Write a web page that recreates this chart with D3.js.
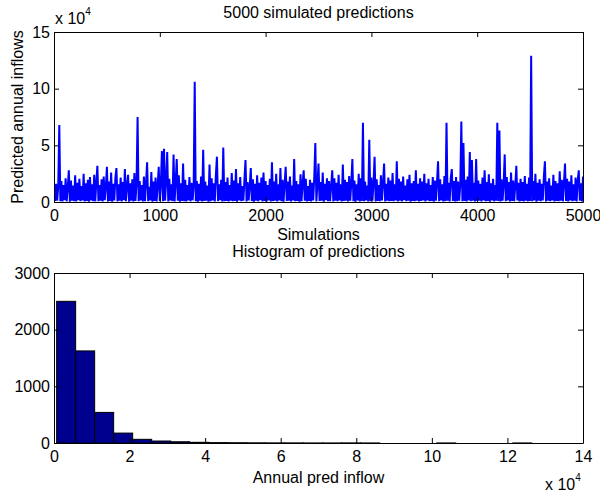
<!DOCTYPE html>
<html>
<head>
<meta charset="utf-8">
<script src="https://cdn.jsdelivr.net/npm/d3@7"></script>
<style>
  body { margin: 0; background: #fff; }
  svg text { font-family: "Liberation Sans", Arial, Helvetica, sans-serif; }
</style>
</head>
<body>
<div id="chart"></div>
<script>
// Predicted annual inflow, one value every 10 simulations
const predictions = [
  900, 16000, 1100, 13500, 68000, 700, 18500, 400, 15000, 1600, 21000, 600, 12500, 28000, 300, 19000, 1200, 14500, 800, 23500,
  500, 17000, 1500, 20500, 700, 14000, 1300, 25000, 400, 16500, 900, 19500, 200, 22000, 1400, 15500, 800, 24000, 600, 17500,
  32000, 700, 15000, 1100, 20000, 400, 22500, 1600, 13500, 31000, 500, 18000, 1000, 26000, 300, 16000, 1300, 21000, 30000, 600,
  15500, 1200, 21500, 500, 17500, 1500, 29000, 800, 14000, 24000, 300, 16500, 1100, 20000, 500, 25500, 900, 16000, 75000, 600,
  18500, 1300, 15000, 400, 22500, 800, 17000, 35000, 700, 13500, 1400, 26500, 300, 18000, 1000, 21500, 500, 15000, 31000, 900,
  16000, 45000, 600, 47000, 1200, 19000, 44000, 400, 20500, 1400, 15500, 800, 42000, 500, 17500, 38000, 1100, 23500, 300, 16500,
  1000, 34000, 700, 19500, 400, 15000, 1300, 22000, 600, 17000, 1500, 13500, 106000, 700, 18500, 300, 16000, 1100, 22500, 500,
  46000, 900, 18000, 1200, 14500, 300, 33000, 600, 21000, 1300, 16500, 400, 24000, 40000, 800, 15500, 1500, 19500, 500, 48000,
  700, 17500, 1000, 21500, 400, 15000, 1200, 25500, 600, 19000, 900, 29000, 300, 16500, 1400, 22000, 700, 14000, 1100, 20000,
  37000, 500, 17500, 1300, 14500, 30000, 800, 20000, 300, 16000, 1200, 23500, 600, 17000, 1600, 21500, 400, 26000, 1000, 18500,
  500, 15000, 1300, 20500, 400, 35000, 800, 18000, 1100, 25000, 500, 15500, 1400, 30000, 700, 19500, 300, 16500, 31000, 900,
  18000, 1100, 22500, 400, 14500, 1400, 38000, 600, 18500, 1000, 15500, 300, 24500, 700, 17000, 28000, 1200, 20500, 500, 14000,
  1000, 19500, 400, 17000, 1300, 22000, 52000, 600, 15000, 34000, 900, 17500, 1200, 26000, 300, 16000, 1500, 21000, 600, 18500,
  800, 14500, 28000, 400, 21000, 1100, 17000, 700, 24000, 1300, 15500, 400, 33000, 900, 19500, 1100, 17500, 500, 23000, 1200,
  16500, 38000, 700, 19000, 300, 15500, 1300, 25000, 500, 21000, 1000, 70000, 600, 18000, 1400, 14500, 400, 55000, 800, 21500,
  1200, 16500, 40000, 500, 20000, 1000, 15000, 800, 23500, 1400, 17500, 34000, 400, 16000, 1100, 21500, 600, 19000, 900, 25500,
  700, 15500, 1300, 36000, 400, 20500, 1100, 18000, 500, 22500, 1500, 14500, 700, 20000, 1200, 24000, 300, 16500, 1000, 18500,
  600, 28000, 1200, 16000, 400, 21000, 900, 18000, 1300, 25000, 500, 16500, 1400, 20500, 700, 15000, 1000, 22000, 300, 19000,
  1100, 17500, 36000, 600, 20000, 1300, 15500, 400, 23000, 800, 70000, 1100, 17000, 500, 21000, 29000, 1000, 18500, 400, 22000,
  700, 18000, 1200, 15000, 71000, 600, 52000, 1000, 19500, 400, 22500, 1400, 44000, 700, 37000, 1200, 17000, 500, 38000, 900,
  19000, 1100, 16000, 400, 21500, 1300, 28000, 600, 17500, 900, 24500, 300, 16500, 1400, 20500, 600, 15000, 1100, 70000, 800,
  63000, 500, 20000, 1200, 16000, 42000, 700, 22000, 1300, 17500, 400, 26000, 1000, 19000, 700, 15000, 32000, 1300, 17000, 500,
  20500, 1000, 17500, 400, 23000, 1200, 16000, 600, 21500, 900, 129000, 600, 18500, 1400, 25000, 300, 17000, 1100, 20000, 800,
  16000, 1300, 22500, 36000, 500, 18000, 1100, 21000, 700, 14500, 1400, 24000, 400, 18500, 1000, 16500, 700, 27000, 1200, 19500,
  600, 17000, 34000, 1000, 20500, 400, 18000, 1300, 23500, 800, 15500, 1100, 21500, 500, 19000, 28000, 1200, 16500, 400, 22500
];
const simStep = 10;

// Histogram: 25 bins starting at histStart, each histWidth wide
const histCounts = [2500, 1625, 540, 175, 65, 35, 22, 12, 7, 5, 3, 2, 2, 1, 1, 2, 1, 0, 0, 0, 1, 0, 0, 0, 1];
const histStart = 700;
const histWidth = 5030;

const topXTicks = [0, 1000, 2000, 3000, 4000, 5000];
const topYTicks = [0, 50000, 100000, 150000];
const botXTicks = [0, 20000, 40000, 60000, 80000, 100000, 120000, 140000];
const botYTicks = [0, 1000, 2000, 3000];

const W = 600, H = 498;
const left = 54, right = 583;
const fontSize = "16px";

const svg = d3.select("#chart").append("svg")
    .attr("width", W)
    .attr("height", H);

// draw a MATLAB-style box with inward ticks on all sides
function drawBox(g, x, y, xTicks, yTicks, xFmt, yFmt) {
    const [x0, x1] = x.range();
    const [y0, y1] = y.range();
    g.append("g")
        .attr("transform", `translate(0,${y0})`)
        .call(d3.axisBottom(x).tickValues(xTicks).tickSize(-5).tickSizeOuter(0).tickPadding(8).tickFormat(xFmt));
    g.append("g")
        .attr("transform", `translate(0,${y1})`)
        .call(d3.axisTop(x).tickValues(xTicks).tickSize(-5).tickSizeOuter(0).tickFormat(""));
    g.append("g")
        .attr("transform", `translate(${x0},0)`)
        .call(d3.axisLeft(y).tickValues(yTicks).tickSize(-5).tickSizeOuter(0).tickPadding(4).tickFormat(yFmt));
    g.append("g")
        .attr("transform", `translate(${x1},0)`)
        .call(d3.axisRight(y).tickValues(yTicks).tickSize(-5).tickSizeOuter(0).tickFormat(""));
    g.selectAll(".domain").attr("stroke", "#000");
    g.selectAll(".tick line").attr("stroke", "#000");
    g.selectAll(".tick text").style("font-size", fontSize).attr("fill", "#000");
}

// ---------- Top: 5000 simulated predictions ----------
const xTop = d3.scaleLinear().domain([0, 5000]).range([left, right]);
const yTop = d3.scaleLinear().domain([0, 150000]).range([202, 32]);

const gTop = svg.append("g");

gTop.append("path")
    .datum(predictions)
    .attr("fill", "none")
    .attr("stroke", "#0000ff")
    .attr("stroke-width", 2)
    .attr("stroke-linejoin", "miter")
    .attr("d", d3.line()
        .x((d, i) => xTop((i + 1) * simStep))
        .y(d => yTop(d)));

drawBox(gTop, xTop, yTop, topXTicks, topYTicks, d3.format("d"), d => d / 10000);

gTop.append("text")
    .attr("x", (left + right) / 2)
    .attr("y", 18)
    .attr("text-anchor", "middle")
    .style("font-size", fontSize)
    .text("5000 simulated predictions");

gTop.append("text")
    .attr("x", (left + right) / 2)
    .attr("y", 240)
    .attr("text-anchor", "middle")
    .style("font-size", fontSize)
    .text("Simulations");

gTop.append("text")
    .attr("transform", "rotate(-90)")
    .attr("x", -117)
    .attr("y", 23)
    .attr("text-anchor", "middle")
    .style("font-size", fontSize)
    .text("Predicted annual inflows");

let exp = gTop.append("text")
    .attr("x", 55)
    .attr("y", 24)
    .style("font-size", fontSize);
exp.append("tspan").text("x 10");
exp.append("tspan").attr("dy", -9).style("font-size", "10px").text("4");

// ---------- Bottom: histogram ----------
const xBot = d3.scaleLinear().domain([0, 140000]).range([left, right]);
const yBot = d3.scaleLinear().domain([0, 3000]).range([443, 273]);

const gBot = svg.append("g");

gBot.selectAll("rect")
    .data(histCounts)
    .enter().append("rect")
    .attr("x", (d, i) => xBot(histStart + i * histWidth))
    .attr("y", d => yBot(d))
    .attr("width", (d, i) => xBot(histStart + (i + 1) * histWidth) - xBot(histStart + i * histWidth))
    .attr("height", d => yBot(0) - yBot(d))
    .attr("fill", "#00008f")
    .attr("stroke", "#000")
    .attr("stroke-width", 1);

drawBox(gBot, xBot, yBot, botXTicks, botYTicks, d => d / 10000, d3.format("d"));

gBot.append("text")
    .attr("x", (left + right) / 2)
    .attr("y", 257)
    .attr("text-anchor", "middle")
    .style("font-size", fontSize)
    .text("Histogram of predictions");

gBot.append("text")
    .attr("x", (left + right) / 2)
    .attr("y", 483)
    .attr("text-anchor", "middle")
    .style("font-size", fontSize)
    .text("Annual pred inflow");

let exp2 = gBot.append("text")
    .attr("x", 545)
    .attr("y", 490)
    .style("font-size", fontSize);
exp2.append("tspan").text("x 10");
exp2.append("tspan").attr("dy", -9).style("font-size", "10px").text("4");
</script>
</body>
</html>
